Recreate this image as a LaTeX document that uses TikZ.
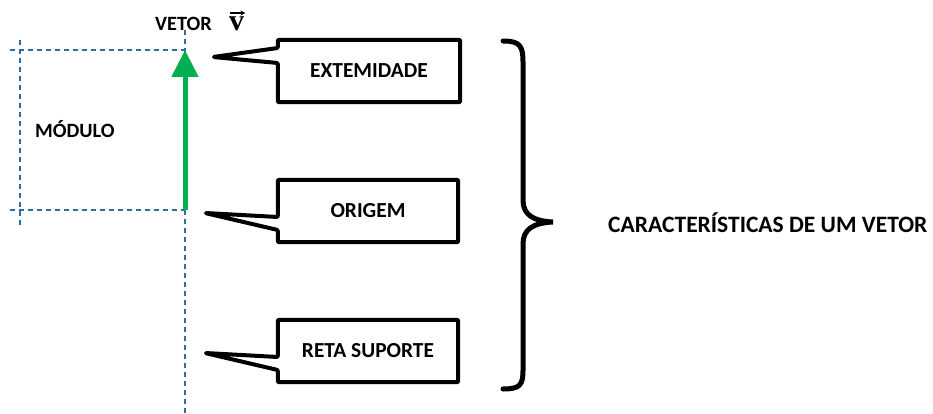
\documentclass[tikz,border=0pt]{standalone}
\usepackage{fontspec}
\setmainfont{Carlito}
\newfontfamily\serifbold{Liberation Serif}
\usetikzlibrary{arrows.meta}
\definecolor{guide}{RGB}{46,110,160}
\definecolor{vecgreen}{RGB}{0,176,80}
\begin{document}
\begin{tikzpicture}[x=1pt,y=-1pt,
  guideline/.style={guide,line width=1.4pt,dash pattern=on 5pt off 4pt},
  callout/.style={draw=black,line width=4pt,line join=round,rounded corners=1pt},
  boxtext/.style={font=\bfseries\fontsize{21.4}{24}\selectfont,inner sep=0pt},
  lbl/.style={font=\bfseries\fontsize{20.3}{24}\selectfont,inner sep=0pt}]
\useasboundingbox (0,0) rectangle (933,414);
% guide lines
\coordinate (vtop) at (185,30);
\coordinate (vbot) at (185,414);
\coordinate (ltop) at (20,40);
\coordinate (lbot) at (20,225);
\coordinate (htl) at (10,50);
\coordinate (htr) at (185,50);
\coordinate (hbl) at (10,210);
\coordinate (hbr) at (185,210);
\draw[guideline] (vtop) -- (vbot);
\draw[guideline] (ltop) -- (lbot);
\draw[guideline] (htl) -- (htr);
\draw[guideline] (hbl) -- (hbr);
% vector arrow
\draw[vecgreen,line width=5pt,-{Triangle[width=26pt,length=27pt]}] (hbr) -- (htr);
% labels
\node[lbl,anchor=west] (vetor) at (155,24) {VETOR};
\node[inner sep=0pt,anchor=base west,font=\serifbold\bfseries\fontsize{30}{32}\selectfont] (vsym) at (229,31) {v};
\draw[line width=1.4pt,-{Stealth[length=5pt,width=5pt]}] ([xshift=1pt,yshift=4pt]vsym.north west) -- ([xshift=1pt,yshift=4pt]vsym.north east);
\node[lbl,anchor=west] (modulo) at (35,129) {MÓDULO};
% callout boxes
\node[boxtext,minimum width=182pt,minimum height=62pt] (ext) at (369,71) {EXTEMIDADE};
\node[boxtext,minimum width=180pt,minimum height=62pt] (ori) at (368,211) {ORIGEM};
\node[boxtext,minimum width=180pt,minimum height=62pt] (ret) at (368,351) {RETA SUPORTE};
\coordinate (t1) at (213,57);
\coordinate (t2) at (205,213);
\coordinate (t3) at (205,353);
\draw[callout] (t1) -- (ext.west |- 0,48) -- (ext.north west) -- (ext.north east) -- (ext.south east) -- (ext.south west) -- (ext.west |- 0,63) -- cycle;
\draw[callout] (t2) -- (ori.west |- 0,217) -- (ori.north west) -- (ori.north east) -- (ori.south east) -- (ori.south west) -- (ori.west |- 0,230) -- cycle;
\draw[callout] (t3) -- (ret.west |- 0,357) -- (ret.north west) -- (ret.north east) -- (ret.south east) -- (ret.south west) -- (ret.west |- 0,370) -- cycle;
% brace
\coordinate (btop) at (503,41);
\coordinate (btip) at (553,222);
\coordinate (bbot) at (503,389);
\draw[line width=5pt,line cap=round] (btop) .. controls (520,41) and (523,46) .. (523,62) -- (523,200) .. controls (523,214) and (532,221) .. (btip) .. controls (532,223) and (523,230) .. (523,244) -- (523,370) .. controls (523,385) and (520,389) .. (bbot);
\node[font=\bfseries\fontsize{23.5}{27}\selectfont,inner sep=0pt,anchor=west] (carac) at (608,223) {CARACTERÍSTICAS DE UM VETOR};
\end{tikzpicture}
\end{document}
